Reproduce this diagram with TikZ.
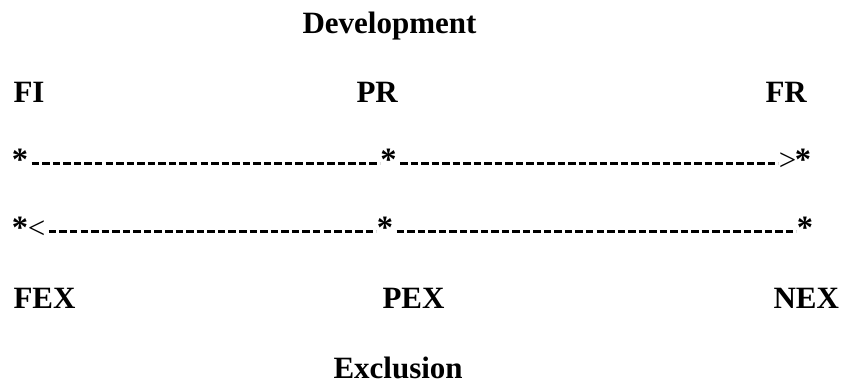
\documentclass[tikz,border=0pt]{standalone}
\usepackage{fontspec}
\setmainfont{Liberation Serif}
\usetikzlibrary{decorations}

\begin{document}
\begin{tikzpicture}[x=0.4pt, y=-0.4pt,
        lbl/.style={inner sep=0, anchor=base west, font=\fontsize{12.4}{15}\selectfont\bfseries},
        star/.style={inner sep=0, anchor=base, font=\fontsize{13}{15}\selectfont\bfseries},
        tip/.style={inner sep=0, anchor=base, font=\fontsize{12.4}{15}\selectfont},
        hyph/.style={line width=1.4pt, dash pattern=on 3pt off 1.2pt, dash expand off}]
    % the frame
    \useasboundingbox (0,0) rectangle (841,383);

    % the labels
    \node[lbl] (dev) at (302,33) {Development};
    \node[lbl] (fi) at (13,102) {FI};
    \node[lbl] (pr) at (356,102) {PR};
    \node[lbl] (fr) at (765,102) {FR};
    \node[lbl] (fex) at (13,308) {FEX};
    \node[lbl] (pex) at (382,308) {PEX};
    \node[lbl] (nex) at (773,308) {NEX};
    \node[lbl] (excl) at (333,378) {Exclusion};

    % the stars
    \foreach \n/\x in {a/20, b/388.5, c/803} {
        \node[star] (top\n) at (\x,170) {*};
    };
    \foreach \n/\x in {a/20, b/385, c/805} {
        \node[star] (bot\n) at (\x,238) {*};
    };
    \node[tip] (rarr) at (787.5,170) {>};
    \node[tip] (larr) at (36.5,238) {<};

    % dashes
    \draw[hyph] ([yshift=2.7pt]topa.base east) -- ([yshift=2.7pt]topb.base west);
    \draw[hyph] ([yshift=2.7pt]topb.base east) -- ([yshift=2.7pt]rarr.base west);
    \draw[hyph] ([yshift=2.7pt]larr.base east) -- ([yshift=2.7pt]botb.base west);
    \draw[hyph] ([yshift=2.7pt]botb.base east) -- ([yshift=2.7pt]botc.base west);

\end{tikzpicture}
\end{document}
